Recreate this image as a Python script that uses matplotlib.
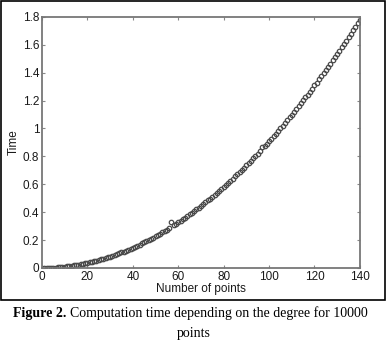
import matplotlib
matplotlib.use("Agg")
import matplotlib.pyplot as plt
from matplotlib.patches import Rectangle

# degree (number of points) vs computation time
degree = list(range(1, 141))
time_s = [
    0.000, 0.000, 0.001, 0.002, 0.002, 0.003, 0.004, 0.006, 0.007, 0.009,
    0.011, 0.013, 0.015, 0.018, 0.020, 0.023, 0.026, 0.029, 0.033, 0.036,
    0.040, 0.044, 0.048, 0.052, 0.057, 0.061, 0.066, 0.071, 0.076, 0.082,
    0.087, 0.093, 0.099, 0.105, 0.111, 0.118, 0.124, 0.131, 0.138, 0.145,
    0.153, 0.160, 0.168, 0.176, 0.184, 0.192, 0.201, 0.209, 0.218, 0.227,
    0.236, 0.246, 0.255, 0.265, 0.275, 0.285, 0.330, 0.306, 0.316, 0.327,
    0.338, 0.349, 0.360, 0.372, 0.384, 0.396, 0.408, 0.420, 0.432, 0.445,
    0.458, 0.471, 0.484, 0.497, 0.511, 0.525, 0.538, 0.552, 0.567, 0.581,
    0.596, 0.611, 0.626, 0.641, 0.656, 0.672, 0.687, 0.703, 0.719, 0.736,
    0.752, 0.769, 0.785, 0.802, 0.820, 0.837, 0.870, 0.872, 0.890, 0.908,
    0.926, 0.945, 0.963, 0.982, 1.001, 1.020, 1.040, 1.059, 1.079, 1.099,
    1.119, 1.139, 1.159, 1.180, 1.201, 1.222, 1.243, 1.264, 1.286, 1.308,
    1.329, 1.352, 1.374, 1.396, 1.419, 1.442, 1.465, 1.488, 1.511, 1.535,
    1.558, 1.582, 1.606, 1.630, 1.655, 1.679, 1.704, 1.729, 1.754, 1.780,
]
x_ticks = [0, 20, 40, 60, 80, 100, 120, 140]
y_ticks = [0, 0.2, 0.4, 0.6, 0.8, 1.0, 1.2, 1.4, 1.6, 1.8]
y_labels = ["0", "0.2", "0.4", "0.6", "0.8", "1", "1.2", "1.4", "1.6", "1.8"]

plt.rcParams['font.family'] = ['Liberation Sans', 'DejaVu Sans']
fig = plt.figure(figsize=(3.87, 3.44), dpi=100, facecolor='white')
ax = fig.add_axes([0.1085, 0.221, 0.8215, 0.730])

ax.plot(degree, time_s, 'o', mfc='none', mec='#4a4a4a', ms=3.2, mew=0.9)
ax.set_xlim(0, 140)
ax.set_ylim(0, 1.8)
ax.set_xticks(x_ticks)
ax.set_yticks(y_ticks)
ax.set_yticklabels(y_labels)
ax.tick_params(direction='in', top=True, right=True, length=2.5, labelsize=8.5,
               colors='#888888', labelcolor='#1a1a1a', pad=2)
for s in ax.spines.values():
    s.set_color('#777777')
    s.set_linewidth(1.3)
ax.set_xlabel("Number of points", fontsize=8.5, color='#1a1a1a', labelpad=0)
ax.set_ylabel("Time", fontsize=8.5, color='#1a1a1a', labelpad=2)

# black frame round the plot area
fig.patches.append(Rectangle((0.003, 0.128), 0.992, 0.868, transform=fig.transFigure,
                             fill=False, edgecolor='black', linewidth=1.2))

# caption: bold "Figure 2." followed by normal text on the same line
t1 = fig.text(13 / 387, 0.089, "Figure 2.", fontsize=10, fontweight='bold',
              family='Liberation Serif', ha='left', va='center')
fig.canvas.draw()
bb = t1.get_window_extent()
fig.text((bb.x1 + 4) / 387, 0.089,
         "Computation time depending on the degree for 10000",
         fontsize=10, family='Liberation Serif', ha='left', va='center')
fig.text(0.5, 0.031, "points", fontsize=10, family='Liberation Serif',
         ha='center', va='center')

fig.savefig('out.png', dpi=100)
